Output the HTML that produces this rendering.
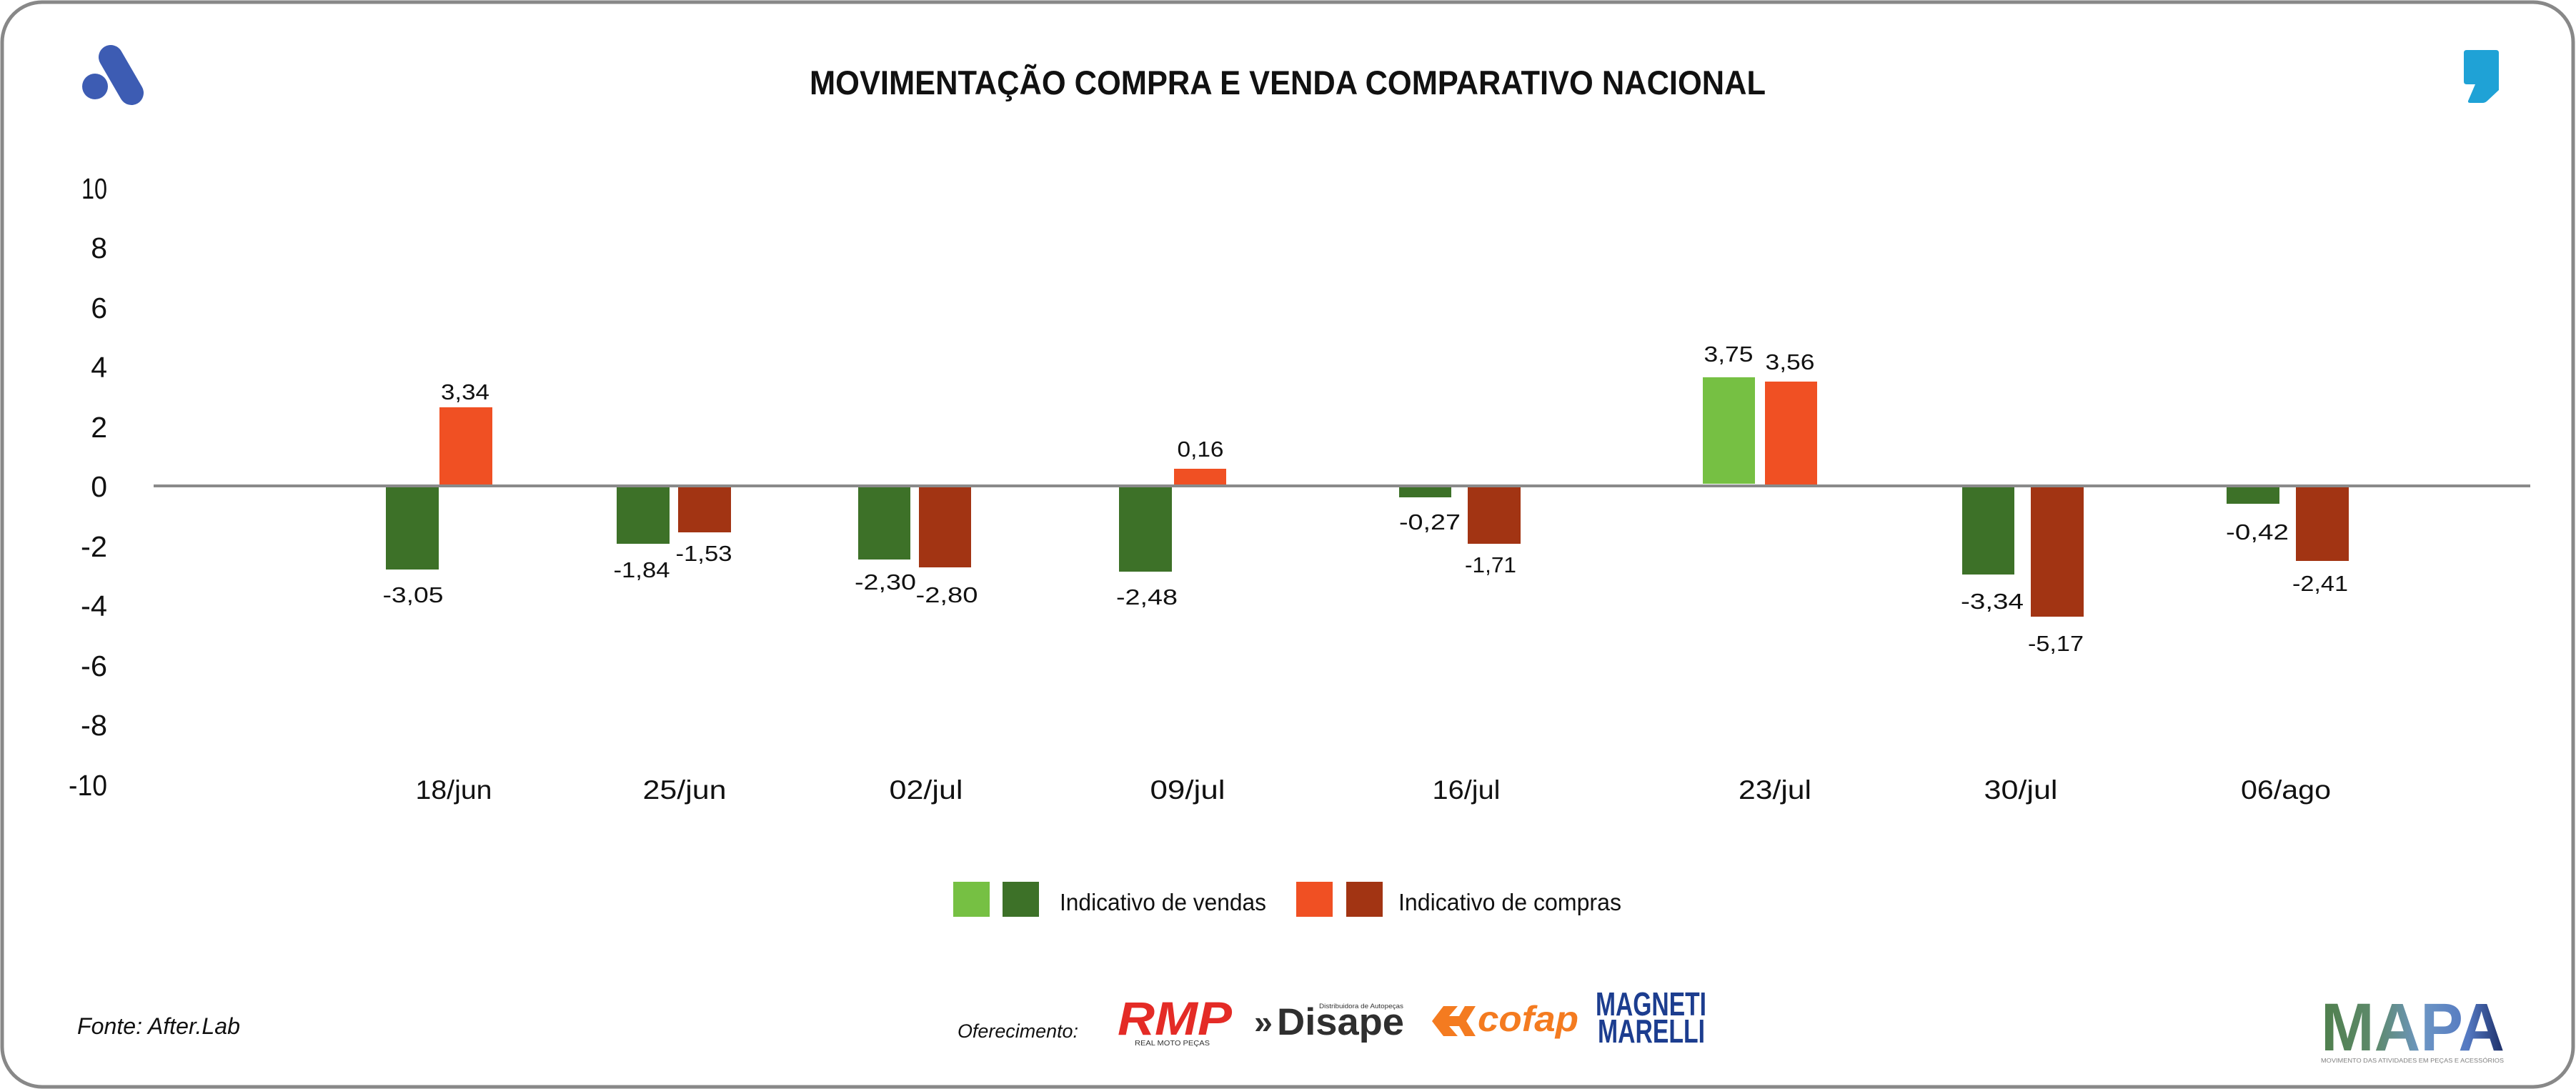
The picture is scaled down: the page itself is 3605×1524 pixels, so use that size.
<!DOCTYPE html>
<html>
<head>
<meta charset="utf-8">
<style>
  html, body { margin: 0; padding: 0; background: #ffffff; }
  body { width: 3605px; height: 1524px; overflow: hidden; }
  svg { display: block; }
  text { font-family: "Liberation Sans", "DejaVu Sans", sans-serif; }
</style>
</head>
<body>
<svg width="3605" height="1524" viewBox="0 0 3605 1524" xmlns="http://www.w3.org/2000/svg">
  <defs>
    <linearGradient id="mapaGrad" x1="0" y1="0" x2="1" y2="0">
      <stop offset="0" stop-color="#4f7f4c"/>
      <stop offset="0.3" stop-color="#5e8a6c"/>
      <stop offset="0.55" stop-color="#6d96c4"/>
      <stop offset="0.8" stop-color="#5479c2"/>
      <stop offset="1" stop-color="#1b2c66"/>
    </linearGradient>
  </defs>

  <!-- background + frame -->
  <rect x="0" y="0" width="3605" height="1524" fill="#ffffff"/>
  <rect x="3" y="3" width="3598" height="1518" rx="56" ry="56" fill="#ffffff" stroke="#888888" stroke-width="5"/>

  <!-- top-left logo -->
  <circle cx="133" cy="121" r="18" fill="#3d5cb3"/>
  <line x1="155" y1="80" x2="184" y2="130" stroke="#3d5cb3" stroke-width="34" stroke-linecap="round"/>

  <!-- top-right comma icon -->
  <path d="M3452,70 H3493 Q3497,70 3497,74 V126 L3481,141 Q3478,144 3474,144 H3457 Q3452,144 3455,139 L3464,118 H3452 Q3448,118 3448,114 V74 Q3448,70 3452,70 Z" fill="#1fa2d6"/>

  <!-- title -->
  <text x="1133" y="132" font-size="47" font-weight="bold" fill="#111111" textLength="1338" lengthAdjust="spacingAndGlyphs">MOVIMENTAÇÃO COMPRA E VENDA COMPARATIVO NACIONAL</text>

  <!-- y-axis tick labels -->
  <g font-size="41" fill="#111111" text-anchor="end">
    <text x="150" y="278" textLength="36" lengthAdjust="spacingAndGlyphs">10</text>
    <text x="150" y="361">8</text>
    <text x="150" y="445">6</text>
    <text x="150" y="528">4</text>
    <text x="150" y="612">2</text>
    <text x="150" y="695">0</text>
    <text x="150" y="779" textLength="37" lengthAdjust="spacingAndGlyphs">-2</text>
    <text x="150" y="862" textLength="37" lengthAdjust="spacingAndGlyphs">-4</text>
    <text x="150" y="946" textLength="37" lengthAdjust="spacingAndGlyphs">-6</text>
    <text x="150" y="1029" textLength="37" lengthAdjust="spacingAndGlyphs">-8</text>
    <text x="150" y="1113" textLength="54" lengthAdjust="spacingAndGlyphs">-10</text>
  </g>

  <!-- bars -->
  <!-- 18/jun -->
  <rect x="540" y="680" width="74" height="117" fill="#3d7128"/>
  <rect x="615" y="570" width="74" height="110" fill="#f05023"/>
  <!-- 25/jun -->
  <rect x="863" y="680" width="74" height="81" fill="#3d7128"/>
  <rect x="949" y="680" width="74" height="65" fill="#a23413"/>
  <!-- 02/jul -->
  <rect x="1201" y="680" width="73" height="103" fill="#3d7128"/>
  <rect x="1286" y="680" width="73" height="114" fill="#a23413"/>
  <!-- 09/jul -->
  <rect x="1566" y="680" width="74" height="120" fill="#3d7128"/>
  <rect x="1643" y="656" width="73" height="24" fill="#f05023"/>
  <!-- 16/jul -->
  <rect x="1958" y="680" width="73" height="16" fill="#3d7128"/>
  <rect x="2054" y="680" width="74" height="81" fill="#a23413"/>
  <!-- 23/jul -->
  <rect x="2383" y="528" width="73" height="149" fill="#76c043"/>
  <rect x="2470" y="534" width="73" height="146" fill="#f05023"/>
  <!-- 30/jul -->
  <rect x="2746" y="680" width="73" height="124" fill="#3d7128"/>
  <rect x="2842" y="680" width="74" height="183" fill="#a23413"/>
  <!-- 06/ago -->
  <rect x="3116" y="680" width="74" height="25" fill="#3d7128"/>
  <rect x="3213" y="680" width="74" height="105" fill="#a23413"/>

  <!-- zero axis line -->
  <rect x="215" y="678" width="3326" height="4" fill="#8a8a8a"/>

  <!-- value labels -->
  <g font-size="31" fill="#111111" text-anchor="middle">
    <text x="578" y="843" textLength="85" lengthAdjust="spacingAndGlyphs">-3,05</text>
    <text x="651" y="559" textLength="68" lengthAdjust="spacingAndGlyphs">3,34</text>
    <text x="898" y="808" textLength="79" lengthAdjust="spacingAndGlyphs">-1,84</text>
    <text x="985" y="785" textLength="79" lengthAdjust="spacingAndGlyphs">-1,53</text>
    <text x="1239" y="825" textLength="86" lengthAdjust="spacingAndGlyphs">-2,30</text>
    <text x="1325" y="843" textLength="87" lengthAdjust="spacingAndGlyphs">-2,80</text>
    <text x="1680" y="639" textLength="65" lengthAdjust="spacingAndGlyphs">0,16</text>
    <text x="1605" y="846" textLength="86" lengthAdjust="spacingAndGlyphs">-2,48</text>
    <text x="2001" y="741" textLength="86" lengthAdjust="spacingAndGlyphs">-0,27</text>
    <text x="2086" y="801" textLength="72" lengthAdjust="spacingAndGlyphs">-1,71</text>
    <text x="2419" y="506" textLength="69" lengthAdjust="spacingAndGlyphs">3,75</text>
    <text x="2505" y="517" textLength="69" lengthAdjust="spacingAndGlyphs">3,56</text>
    <text x="2788" y="852" textLength="88" lengthAdjust="spacingAndGlyphs">-3,34</text>
    <text x="2877" y="911" textLength="78" lengthAdjust="spacingAndGlyphs">-5,17</text>
    <text x="3159" y="755" textLength="88" lengthAdjust="spacingAndGlyphs">-0,42</text>
    <text x="3247" y="827" textLength="78" lengthAdjust="spacingAndGlyphs">-2,41</text>
  </g>

  <!-- category labels -->
  <g font-size="37" fill="#111111" text-anchor="middle">
    <text x="635" y="1118" textLength="107" lengthAdjust="spacingAndGlyphs">18/jun</text>
    <text x="958" y="1118" textLength="117" lengthAdjust="spacingAndGlyphs">25/jun</text>
    <text x="1296" y="1118" textLength="103" lengthAdjust="spacingAndGlyphs">02/jul</text>
    <text x="1662" y="1118" textLength="105" lengthAdjust="spacingAndGlyphs">09/jul</text>
    <text x="2052" y="1118" textLength="95" lengthAdjust="spacingAndGlyphs">16/jul</text>
    <text x="2484" y="1118" textLength="102" lengthAdjust="spacingAndGlyphs">23/jul</text>
    <text x="2828" y="1118" textLength="103" lengthAdjust="spacingAndGlyphs">30/jul</text>
    <text x="3199" y="1118" textLength="126" lengthAdjust="spacingAndGlyphs">06/ago</text>
  </g>

  <!-- legend -->
  <rect x="1334" y="1234" width="51" height="49" fill="#76c043"/>
  <rect x="1403" y="1234" width="51" height="49" fill="#3d7128"/>
  <text x="1483" y="1274" font-size="33" fill="#111111" textLength="289" lengthAdjust="spacingAndGlyphs">Indicativo de vendas</text>
  <rect x="1814" y="1234" width="51" height="49" fill="#f05023"/>
  <rect x="1884" y="1234" width="51" height="49" fill="#a23413"/>
  <text x="1957" y="1274" font-size="33" fill="#111111" textLength="312" lengthAdjust="spacingAndGlyphs">Indicativo de compras</text>

  <!-- footer -->
  <text x="108" y="1447" font-size="32" font-style="italic" fill="#111111" textLength="228" lengthAdjust="spacingAndGlyphs">Fonte: After.Lab</text>
  <text x="1340" y="1452" font-size="27" font-style="italic" fill="#111111" textLength="169" lengthAdjust="spacingAndGlyphs">Oferecimento:</text>

  <!-- RMP logo -->
  <text x="1564" y="1448" font-size="66" font-weight="bold" font-style="italic" fill="#e42b26" textLength="160" lengthAdjust="spacingAndGlyphs">RMP</text>
  <text x="1588" y="1463" font-size="10" fill="#333333" textLength="105" lengthAdjust="spacingAndGlyphs">REAL MOTO PEÇAS</text>

  <!-- Disape logo -->
  <text x="1755" y="1446" font-size="46" font-weight="bold" fill="#2f2f2f" textLength="26" lengthAdjust="spacingAndGlyphs">»</text>
  <text x="1787" y="1448" font-size="53" font-weight="bold" fill="#2f2f2f" textLength="178" lengthAdjust="spacingAndGlyphs">Disape</text>
  <text x="1846" y="1411" font-size="9" fill="#333333" textLength="118" lengthAdjust="spacingAndGlyphs">Distribuidora de Autopeças</text>

  <!-- cofap logo -->
  <g fill="#f47b20">
    <polygon points="2004,1429 2020,1408 2040,1408 2028,1422 2042,1422 2050,1408 2065,1408 2052,1429 2065,1450 2050,1450 2042,1436 2028,1436 2040,1450 2020,1450"/>
  </g>
  <text x="2068" y="1443" font-size="50" font-weight="bold" font-style="italic" fill="#f47b20" textLength="141" lengthAdjust="spacingAndGlyphs">cofap</text>

  <!-- Magneti Marelli logo -->
  <text x="2233" y="1421" font-size="46" font-weight="bold" fill="#1c3d8f" textLength="155" lengthAdjust="spacingAndGlyphs">MAGNETI</text>
  <text x="2236" y="1459" font-size="46" font-weight="bold" fill="#1c3d8f" textLength="150" lengthAdjust="spacingAndGlyphs">MARELLI</text>

  <!-- MAPA logo -->
  <text x="3248" y="1470" font-size="95" font-weight="bold" fill="url(#mapaGrad)" textLength="257" lengthAdjust="spacingAndGlyphs">MAPA</text>
  <text x="3248" y="1487" font-size="8" fill="#808080" textLength="256" lengthAdjust="spacingAndGlyphs">MOVIMENTO DAS ATIVIDADES EM PEÇAS E ACESSÓRIOS</text>
</svg>
</body>
</html>
